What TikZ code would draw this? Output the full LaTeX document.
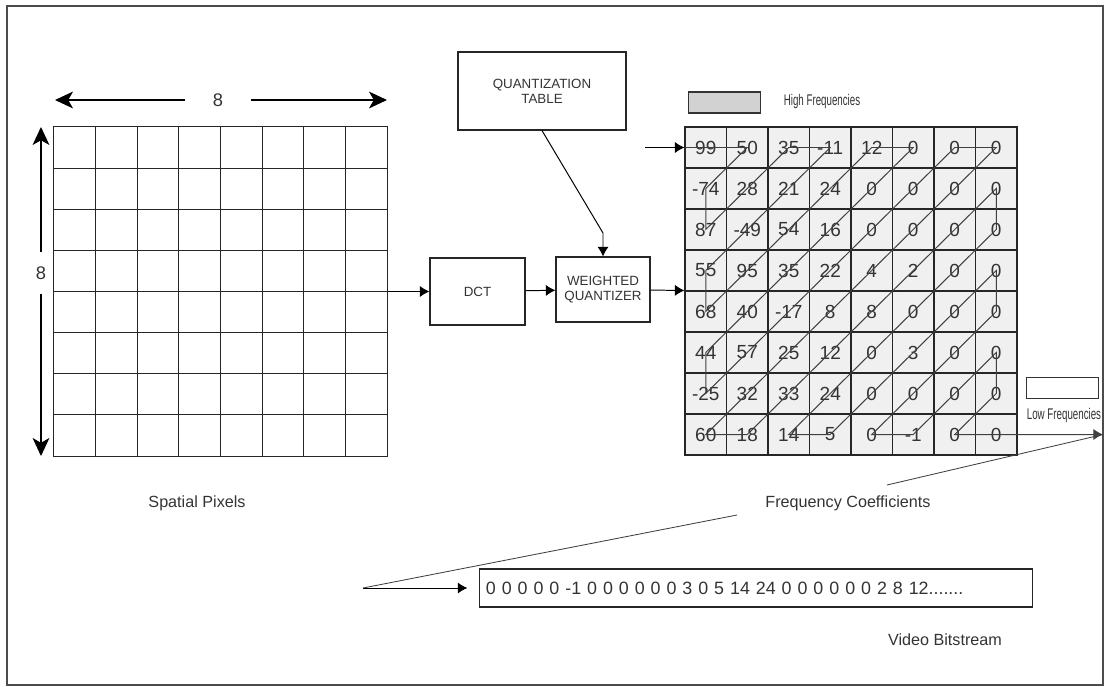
\documentclass[tikz,border=0pt]{standalone}
\usepackage{fontspec}
\setmainfont{Liberation Sans}
\usepackage{graphicx}
\usetikzlibrary{arrows.meta}

\begin{document}
\begin{tikzpicture}[x=0.025cm, y=-0.025cm, every node/.style={font=\fontsize{11.5}{13}\selectfont, text=black!80}]
    % Styles
    \tikzstyle{block} = [rectangle, draw=black!85, line width=0.8pt, align=center, font=\fontsize{9.5}{10.5}\selectfont]
    \tikzstyle{cell} = [rectangle, draw=black!85, line width=0.75pt, fill=gray!12, inner sep=0pt, minimum width=1.0375cm, minimum height=1.025cm, font=\fontsize{13.5}{15}\selectfont]
    \tikzstyle{arrow} = [line width=0.7pt, -{Latex[length=2.4mm,width=2.8mm]}]
    \tikzstyle{dimarrow} = [line width=0.8pt, -{Stealth[length=4.5mm,width=4.2mm,inset=1.2mm]}]
    \tikzstyle{zigzag} = [line width=0.6pt, black!75]
    \tikzstyle{gridline} = [line width=0.75pt, black!85]
    \tikzstyle{legend} = [rectangle, draw=black!80, line width=0.8pt, minimum width=1.8cm, minimum height=0.525cm]
    \tikzstyle{narrow} = [font=\fontsize{11}{13}\selectfont]

    \useasboundingbox (0,0) rectangle (1105,686);
    \draw[line width=0.8pt, black!70] (7,6) rectangle (1103,685);

    % Spatial pixels
    \node (spatial) [rectangle, draw=black!85, line width=0.75pt, inner sep=0pt, minimum width=8.325cm, minimum height=8.225cm] at (220.5,291.5) {};
    \foreach \i in {1,...,7} {
        \draw[gridline] ({54+41.625*\i},127) -- ({54+41.625*\i},456);
        \draw[gridline] (54,{127+41.125*\i}) -- (387,{127+41.125*\i});
    }

    % Dimensions
    \node (w8) [inner xsep=0.7cm, font=\fontsize{13}{15}\selectfont] at (218,100) {8};
    \node (h8) [inner ysep=0.35cm, font=\fontsize{13}{15}\selectfont] at (41,273) {8};
    \coordinate (wl) at (55,100);
    \coordinate (wr) at (387,100);
    \coordinate (ht) at (41,127);
    \coordinate (hb) at (41,456);
    \draw [dimarrow] (w8) -- (wl);
    \draw [dimarrow] (w8) -- (wr);
    \draw [dimarrow] (h8) -- (ht);
    \draw [dimarrow] (h8) -- (hb);

    % Blocks
    \node (dct) [block, minimum width=2.375cm, minimum height=1.675cm] at (477.5,291.5) {DCT};
    \node (wq)  [block, minimum width=2.35cm, minimum height=1.625cm] at (603,289.5) {WEIGHTED\\QUANTIZER};
    \node (qt)  [block, minimum width=4.2cm, minimum height=1.95cm] at (542,91) {QUANTIZATION\\TABLE};
    \coordinate (qt-bend) at (603,233);

    % Frequency coefficients
    \foreach \row [count=\r from 0] in {{99,50,35,-11,12,0,0,0},{-74,28,21,24,0,0,0,0},{87,-49,54,16,0,0,0,0},{55,95,35,22,4,2,0,0},{68,40,-17,8,8,0,0,0},{44,57,25,12,0,3,0,0},{-25,32,33,24,0,0,0,0},{60,18,14,5,0,-1,0,0}} {
        \foreach \val [count=\c from 0] in \row {
            \node (c-\r-\c) [cell] at ({685+41.5*(\c+0.5)},{127+41*(\r+0.5)}) {\val};
        }
    }

    % Legend
    \node (high) [legend, fill=gray!35] at (724.5,102.5) {};
    \node (highlbl) [narrow] at (822,101) {\scalebox{0.63}[1]{High Frequencies}};
    \node (low) [legend, fill=white] at (1062.5,388) {};
    \node (lowlbl) [narrow] at (1064,415) {\scalebox{0.63}[1]{Low Frequencies}};

    % Bitstream
    \node (bits) [rectangle, draw=black!85, line width=0.8pt, text width=13.5cm, inner xsep=0.15cm, minimum height=0.95cm, align=left, font=\fontsize{12.7}{14}\selectfont] at (756,588) {0 0 0 0 0 -1 0 0 0 0 0 0 3 0 5 14 24 0 0 0 0 0 0 2 8 12.......};
    \coordinate (in) at (645,147.5);
    \coordinate (out) at (1103,434.5);
    \coordinate (fc-a) at (887,485);
    \coordinate (fc-b) at (737,515);
    \coordinate (bs-in) at (363,588);

    % Arrows
    \draw [arrow] (spatial.east) -- (dct.west);
    \draw [arrow] (dct) -- (wq);
    \draw [arrow] (qt.south) -- (qt-bend) -- (wq.north);
    \draw [arrow] (wq) -- (c-4-0.north west);
    \draw [arrow] (in) -- (c-0-0.west);
    \draw [zigzag, arrow] (c-0-0.west) -- (c-0-1.center) -- (c-1-0.center) -- (c-2-0.center) -- (c-0-2.center) -- (c-0-3.center) -- (c-3-0.center) -- (c-4-0.center) -- (c-0-4.center) -- (c-0-5.center) -- (c-5-0.center) -- (c-6-0.center) -- (c-0-6.center) -- (c-0-7.center) -- (c-7-0.center) -- (c-7-1.center) -- (c-1-7.center) -- (c-2-7.center) -- (c-7-2.center) -- (c-7-3.center) -- (c-3-7.center) -- (c-4-7.center) -- (c-7-4.center) -- (c-7-5.center) -- (c-5-7.center) -- (c-6-7.center) -- (c-7-6.center) -- (c-7-7.center) -- (out);
    \draw [zigzag] (out) -- (fc-a);
    \draw [zigzag] (fc-b) -- (bs-in);
    \draw [arrow, shorten >=0.3cm] (bs-in) -- (bits.west);

    % Captions
    \node (spcap) at (197,503) {Spatial Pixels};
    \node (fccap) at (848,503) {Frequency Coefficients};
    \node (bscap) at (945,640) {Video Bitstream};
\end{tikzpicture}
\end{document}
